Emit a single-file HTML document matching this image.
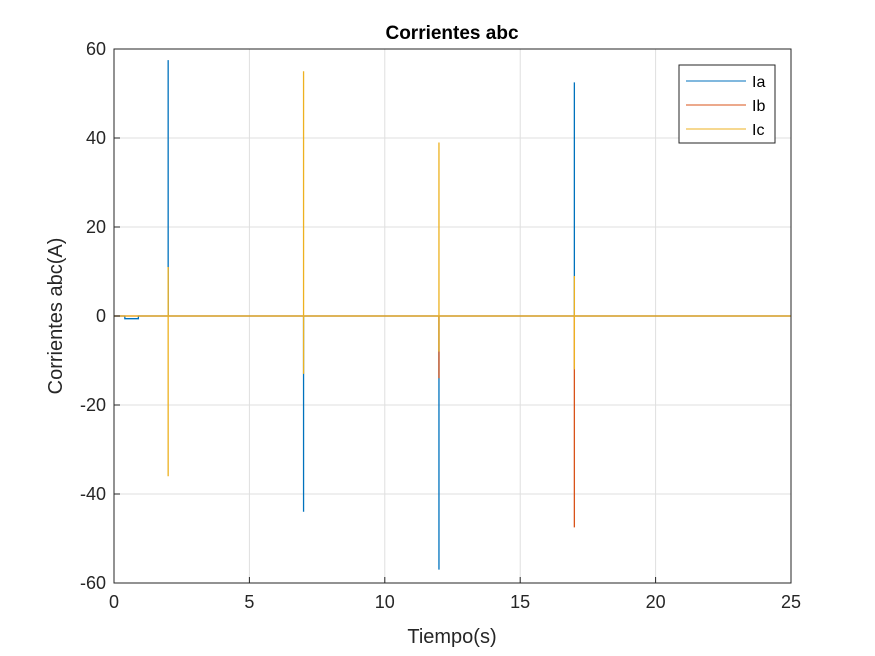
<!DOCTYPE html>
<html><head><meta charset="utf-8"><style>
body{margin:0;background:#fff;}
svg{display:block;font-family:"Liberation Sans",sans-serif;}
</style></head><body>
<svg id="chart" width="875" height="656">
<rect width="875" height="656" fill="#fff"/>
<g id="grid"></g>
<g id="series"></g>
<g id="axes"></g>
<text x="452" y="39" font-size="19" font-weight="bold" text-anchor="middle">Corrientes abc</text>
<text x="452" y="643" font-size="20" text-anchor="middle" fill="#262626">Tiempo(s)</text>
<text transform="translate(62,316) rotate(-90)" font-size="20" text-anchor="middle" fill="#262626">Corrientes abc(A)</text>
<g>
<rect x="679" y="65" width="96" height="78" fill="#fff" stroke="#262626" stroke-width="1"/>
<line x1="686" y1="81" x2="746" y2="81" stroke="#0072BD"/>
<text x="752" y="87" font-size="16">Ia</text>
<line x1="686" y1="105" x2="746" y2="105" stroke="#D95319"/>
<text x="752" y="111" font-size="16">Ib</text>
<line x1="686" y1="129" x2="746" y2="129" stroke="#EDB120"/>
<text x="752" y="135" font-size="16">Ic</text>
</g>
</svg>
<script>
const xTicks=[0,5,10,15,20,25];
const yTicks=[-60,-40,-20,0,20,40,60];
const seriesNames=['Ia','Ib','Ic'];
const seriesColors=['#0072BD','#D95319','#EDB120'];
const iaT=[0,0.4,0.4,0.9,0.9,2,2,2,2,7,7,7,7,12,12,12,12,17,17,17,17,25];
const iaV=[0,0,-0.6,-0.6,0,0,57.5,11,0,0,-13,-44,0,0,-14,-57,0,0,52.5,9,0,0];
const ibT=[0,12,12,12,12,17,17,17,17,25];
const ibV=[0,0,-2,-14,0,0,-12.5,-47.5,0,0];
const icT=[0,2,2,2,2,7,7,7,7,12,12,12,12,17,17,17,17,25];
const icV=[0,0,11,-36,0,0,55,-13,0,0,39,-8,0,0,9,-12,0,0];
const L=114,R=791,T=49,B=583;
const xs=t=>L+(t-0)/25*(R-L);
const ys=v=>B-(v+60)/120*(B-T);
const NS='http://www.w3.org/2000/svg';
function mk(tag,attrs,parent){const e=document.createElementNS(NS,tag);for(const k in attrs)e.setAttribute(k,attrs[k]);parent.appendChild(e);return e;}
const grid=document.getElementById('grid'),axes=document.getElementById('axes'),ser=document.getElementById('series');
xTicks.forEach(t=>{
 const g=mk('line',{x1:xs(t),x2:xs(t),y1:T,y2:B,stroke:'#dfdfdf'},grid);
 
 
 const tk=mk('line',{x1:xs(t),x2:xs(t),y1:B,y2:B-6,stroke:'#262626'},axes);
 
 
 const tx=mk('text',{x:xs(t),y:B+25,'font-size':18,'text-anchor':'middle',fill:'#262626'},axes);
 tx.textContent=t;
 
 
});
yTicks.forEach(v=>{
 const g=mk('line',{x1:L,x2:R,y1:ys(v),y2:ys(v),stroke:'#dfdfdf'},grid);
 
 
 const tk=mk('line',{x1:L,x2:L+6,y1:ys(v),y2:ys(v),stroke:'#262626'},axes);
 
 
 const tx=mk('text',{x:L-8,y:ys(v)+6,'font-size':18,'text-anchor':'end',fill:'#262626'},axes);
 tx.textContent=v;
 
 
});
const fr=mk('rect',{x:L,y:T,width:R-L,height:B-T,fill:'none',stroke:'#262626'},axes);


[[iaT,iaV],[ibT,ibV],[icT,icV]].forEach((d,i)=>{
 const pts=d[0].map((t,j)=>xs(t)+','+ys(d[1][j])).join(' ');
 const p=mk('polyline',{points:pts,fill:'none',stroke:seriesColors[i],'stroke-width':1.3},ser);
 
 
});
</script>
</body></html>
